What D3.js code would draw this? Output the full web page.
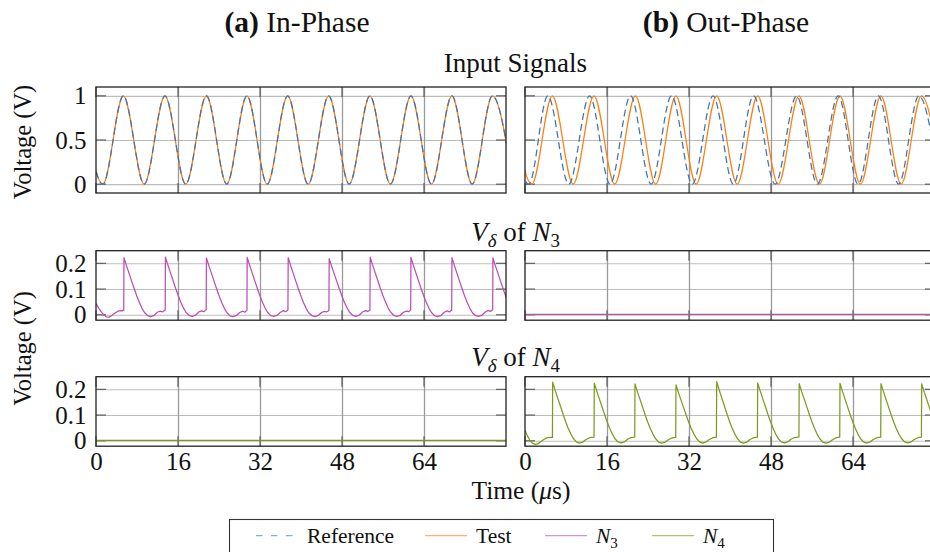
<!DOCTYPE html>
<html>
<head>
<meta charset="utf-8">
<script src="https://cdn.jsdelivr.net/npm/d3@7"></script>
<style>
  html, body { margin: 0; padding: 0; background: #fff; }
  svg { display: block; }
  svg text { font-family: "Liberation Serif", "Times New Roman", serif !important; }
</style>
</head>
<body>
<svg id="chart" width="930" height="552"></svg>
<script>
// ---------------- data ----------------
const xTicks = [0, 16, 32, 48, 64];
const yTicksInput = [0, 0.5, 1];
const yTicksDelta = [0, 0.1, 0.2];
const columnTitles = ["In-Phase", "Out-Phase"];
const columnTags = ["(a)", "(b)"];
const seriesNames = ["Reference", "Test", "N3", "N4"];

// Input signals: extrema [time (µs), volts]; drawn with a monotone curve
const testSignal = [[-2.67,1],[1.33,0],[5.33,1],[9.4,0],[13.45,1],[17.5,0],[21.55,1],[25.5,0],[29.45,1],[33.4,0],
  [37.4,1],[41.4,0],[45.4,1],[49.4,0],[53.45,1],[57.45,0],[61.45,1],[65.45,0],[69.45,1],[73.4,0],[77.35,1],[81.35,0]];
const referenceInPhase = testSignal;
const referenceOutPhase = [[-3.3,1],[0.75,0],[4.45,1],[8.55,0],[12.6,1],[16.6,0],[20.6,1],[24.6,0],[28.6,1],[32.65,0],
  [36.7,1],[40.65,0],[44.6,1],[48.8,0],[53.0,1],[57.05,0],[61.1,1],[65.0,0],[68.95,1],[72.9,0],[76.85,1],[80.85,0]];

// V_delta of N3, in-phase case
const n3InPhase = [
  [0,0.044],[0.5,0.027],[1.0,0.012],[1.5,0.0],[2.0,-0.008],[2.5,-0.009],[3.0,-0.004],[3.6,0.005],[4.2,0.013],[4.7,0.016],[5.1,0.015],[5.41,0.018],
  [5.46,0.222],[5.96,0.19],[6.46,0.161],[6.96,0.131],[7.46,0.101],[7.96,0.073],[8.46,0.048],[8.96,0.026],[9.46,0.009],[10.06,-0.003],[10.66,-0.007],[11.36,-0.002],[11.96,0.01],[12.56,0.014],[12.96,0.011],[13.5,0.019],
  [13.55,0.224],[14.05,0.192],[14.55,0.162],[15.05,0.132],[15.55,0.102],[16.05,0.074],[16.55,0.049],[17.05,0.027],[17.55,0.01],[18.15,-0.002],[18.75,-0.006],[19.45,-0.001],[20.05,0.011],[20.65,0.015],[21.05,0.012],[21.5,0.02],
  [21.55,0.221],[22.05,0.189],[22.55,0.16],[23.05,0.13],[23.55,0.1],[24.05,0.072],[24.55,0.047],[25.05,0.025],[25.55,0.008],[26.15,-0.004],[26.75,-0.007],[27.45,-0.002],[28.05,0.009],[28.65,0.014],[29.05,0.01],[29.45,0.018],
  [29.5,0.223],[30.0,0.191],[30.5,0.161],[31.0,0.131],[31.5,0.101],[32.0,0.073],[32.5,0.048],[33.0,0.026],[33.5,0.009],[34.1,-0.003],[34.7,-0.006],[35.4,-0.001],[36.0,0.01],[36.6,0.016],[37.0,0.012],[37.45,0.019],
  [37.5,0.222],[38.0,0.19],[38.5,0.16],[39.0,0.13],[39.5,0.1],[40.0,0.072],[40.5,0.047],[41.0,0.025],[41.5,0.008],[42.1,-0.003],[42.7,-0.007],[43.4,-0.002],[44.0,0.009],[44.6,0.013],[45.0,0.011],[45.45,0.017],
  [45.5,0.218],[46.0,0.187],[46.5,0.158],[47.0,0.129],[47.5,0.1],[48.0,0.072],[48.5,0.047],[49.0,0.026],[49.5,0.009],[50.1,-0.002],[50.7,-0.006],[51.4,-0.001],[52.0,0.011],[52.6,0.016],[53.0,0.013],[53.45,0.018],
  [53.5,0.224],[54.0,0.192],[54.5,0.162],[55.0,0.132],[55.5,0.102],[56.0,0.074],[56.5,0.049],[57.0,0.027],[57.5,0.01],[58.1,-0.002],[58.7,-0.006],[59.4,-0.002],[60.0,0.01],[60.6,0.014],[61.0,0.012],[61.4,0.019],
  [61.45,0.223],[61.95,0.191],[62.45,0.161],[62.95,0.131],[63.45,0.101],[63.95,0.073],[64.45,0.048],[64.95,0.026],[65.45,0.009],[66.05,-0.003],[66.65,-0.007],[67.35,-0.002],[67.95,0.01],[68.55,0.015],[68.95,0.011],[69.4,0.018],
  [69.45,0.222],[69.95,0.19],[70.45,0.16],[70.95,0.13],[71.45,0.1],[71.95,0.072],[72.45,0.047],[72.95,0.025],[73.45,0.008],[74.05,-0.003],[74.65,-0.006],[75.35,-0.001],[75.95,0.011],[76.55,0.017],[76.95,0.013],[77.4,0.02],
  [77.45,0.221],[77.95,0.189],[78.45,0.16],[78.95,0.13],[79.45,0.1],[79.95,0.072],[80.45,0.047]
];
// V_delta of N3, out-phase case (stays near zero)
const n3OutPhase = [[0,0.002],[20,0.002],[40,0.002],[60,0.002],[80,0.002]];

// V_delta of N4, in-phase case (stays near zero)
const n4InPhase = [[0,0.002],[20,0.002],[40,0.002],[60,0.002],[80,0.002]];
// V_delta of N4, out-phase case
const n4OutPhase = [
  [0,0.041],[0.5,0.018],[1.0,0.0],[1.5,-0.01],[2.0,-0.014],[2.5,-0.012],[3.0,-0.005],[3.6,0.004],[4.2,0.011],[4.8,0.013],[5.35,0.013],
  [5.4,0.228],[5.9,0.195],[6.4,0.165],[6.9,0.135],[7.4,0.105],[7.9,0.076],[8.4,0.05],[8.9,0.028],[9.4,0.01],[10.0,-0.004],[10.6,-0.009],[11.3,-0.005],[11.9,0.005],[12.5,0.011],[12.9,0.013],[13.47,0.014],
  [13.52,0.224],[14.02,0.192],[14.52,0.162],[15.02,0.132],[15.52,0.102],[16.02,0.074],[16.52,0.049],[17.02,0.027],[17.52,0.009],[18.12,-0.004],[18.72,-0.008],[19.42,-0.004],[20.02,0.006],[20.62,0.012],[21.02,0.013],[21.41,0.015],
  [21.46,0.221],[21.96,0.189],[22.46,0.16],[22.96,0.13],[23.46,0.1],[23.96,0.072],[24.46,0.047],[24.96,0.026],[25.46,0.009],[26.06,-0.005],[26.66,-0.009],[27.36,-0.005],[27.96,0.004],[28.56,0.01],[28.96,0.012],[29.41,0.013],
  [29.46,0.217],[29.96,0.186],[30.46,0.157],[30.96,0.128],[31.46,0.099],[31.96,0.071],[32.46,0.047],[32.96,0.026],[33.46,0.009],[34.06,-0.004],[34.66,-0.009],[35.36,-0.004],[35.96,0.005],[36.56,0.011],[36.96,0.013],[37.35,0.014],
  [37.4,0.23],[37.9,0.197],[38.4,0.166],[38.9,0.135],[39.4,0.105],[39.9,0.076],[40.4,0.05],[40.9,0.028],[41.4,0.01],[42.0,-0.004],[42.6,-0.009],[43.3,-0.005],[43.9,0.005],[44.5,0.011],[44.9,0.013],[45.35,0.014],
  [45.4,0.225],[45.9,0.193],[46.4,0.163],[46.9,0.133],[47.4,0.103],[47.9,0.074],[48.4,0.049],[48.9,0.027],[49.4,0.009],[50.0,-0.004],[50.6,-0.008],[51.3,-0.004],[51.9,0.006],[52.5,0.012],[52.9,0.013],[53.45,0.015],
  [53.5,0.222],[54.0,0.19],[54.5,0.161],[55.0,0.131],[55.5,0.101],[56.0,0.073],[56.5,0.048],[57.0,0.026],[57.5,0.009],[58.1,-0.005],[58.7,-0.009],[59.4,-0.005],[60.0,0.004],[60.6,0.011],[61.0,0.013],[61.41,0.014],
  [61.46,0.223],[61.96,0.191],[62.46,0.161],[62.96,0.131],[63.46,0.101],[63.96,0.073],[64.46,0.048],[64.96,0.026],[65.46,0.009],[66.06,-0.004],[66.66,-0.009],[67.36,-0.004],[67.96,0.005],[68.56,0.011],[68.96,0.013],[69.41,0.014],
  [69.46,0.222],[69.96,0.19],[70.46,0.16],[70.96,0.13],[71.46,0.1],[71.96,0.072],[72.46,0.047],[72.96,0.026],[73.46,0.009],[74.06,-0.004],[74.66,-0.008],[75.36,-0.004],[75.96,0.005],[76.56,0.011],[76.96,0.013],[77.35,0.014],
  [77.4,0.221],[77.9,0.189],[78.4,0.16],[78.9,0.13],[79.4,0.1],[79.9,0.072],[80.4,0.047]
];

// ---------------- layout & style ----------------
const COLORS = { reference: "#3a74b6", test: "#ff7f0e", n3: "#be4cb3", n4: "#7d9a1c" };
const TEXT = "#111";
const SERIF = '"Liberation Serif", "Times New Roman", serif';
const columns = [{ x0: 96, x1: 506 }, { x0: 525, x1: 935 }];
const rows = [
  { y0: 87,    y1: 193,   domain: [-0.1, 1.1],     ticks: yTicksInput },
  { y0: 250.7, y1: 320.2, domain: [-0.021, 0.249], ticks: yTicksDelta },
  { y0: 376.7, y1: 446.2, domain: [-0.021, 0.249], ticks: yTicksDelta }
];
const DASH = "7,4";

const panels = [
  { row: 0, col: 0, series: [
      { data: testSignal, color: COLORS.test, curve: d3.curveMonotoneX },
      { data: referenceInPhase, color: COLORS.reference, dash: DASH, curve: d3.curveMonotoneX } ] },
  { row: 0, col: 1, series: [
      { data: testSignal, color: COLORS.test, curve: d3.curveMonotoneX },
      { data: referenceOutPhase, color: COLORS.reference, dash: DASH, curve: d3.curveMonotoneX } ] },
  { row: 1, col: 0, series: [{ data: n3InPhase, color: COLORS.n3, curve: d3.curveLinear }] },
  { row: 1, col: 1, series: [{ data: n3OutPhase, color: COLORS.n3, curve: d3.curveLinear }] },
  { row: 2, col: 0, series: [{ data: n4InPhase, color: COLORS.n4, curve: d3.curveLinear }] },
  { row: 2, col: 1, series: [{ data: n4OutPhase, color: COLORS.n4, curve: d3.curveLinear }] }
];

const svg = d3.select("#chart");
const defs = svg.append("defs");

// Text with italic / bold / subscript runs
function richText(parent, parts, size) {
  const t = parent.append("text").attr("font-size", size).attr("fill", TEXT)
    .style("font-family", SERIF);
  let shifted = 0;
  parts.forEach(p => {
    const s = t.append("tspan").text(p.t);
    if (p.i) s.attr("font-style", "italic");
    if (p.b) s.attr("font-weight", "bold");
    if (p.sub) {
      const d = size * 0.24;
      s.attr("font-size", size * 0.7).attr("dy", d - shifted);
      shifted = d;
    } else if (shifted) {
      s.attr("dy", -shifted);
      shifted = 0;
    }
  });
  return t;
}

panels.forEach((p, idx) => {
  const c = columns[p.col], r = rows[p.row];
  const x = d3.scaleLinear().domain([0, 80]).range([c.x0, c.x1]);
  const y = d3.scaleLinear().domain(r.domain).range([r.y1, r.y0]);
  const w = c.x1 - c.x0, h = r.y1 - r.y0;
  const g = svg.append("g");

  const clipId = "clip" + idx;
  defs.append("clipPath").attr("id", clipId)
    .append("rect").attr("x", c.x0).attr("y", r.y0).attr("width", w).attr("height", h);

  // horizontal grid
  g.append("g").attr("transform", `translate(${c.x0},0)`)
    .call(d3.axisLeft(y).tickValues(r.ticks).tickSize(-w).tickFormat(""))
    .call(a => a.select(".domain").remove())
    .call(a => a.selectAll("line").attr("stroke", "#bcbcbc").attr("stroke-width", 1.1));
  // vertical grid
  g.append("g").attr("transform", `translate(0,${r.y1})`)
    .call(d3.axisBottom(x).tickValues(xTicks.filter(v => v > 0)).tickSize(-h).tickFormat(""))
    .call(a => a.select(".domain").remove())
    .call(a => a.selectAll("line").attr("stroke", "#9a9a9a").attr("stroke-width", 1.3));

  // inner tick marks on all four sides
  const tl = 10;
  const tk = g.append("g").attr("stroke", "#555").attr("stroke-width", 1.1);
  r.ticks.forEach(v => {
    tk.append("line").attr("x1", c.x0).attr("x2", c.x0 + tl).attr("y1", y(v)).attr("y2", y(v));
    tk.append("line").attr("x1", c.x1).attr("x2", c.x1 - tl).attr("y1", y(v)).attr("y2", y(v));
  });
  xTicks.forEach(v => {
    tk.append("line").attr("x1", x(v)).attr("x2", x(v)).attr("y1", r.y1).attr("y2", r.y1 - tl);
    tk.append("line").attr("x1", x(v)).attr("x2", x(v)).attr("y1", r.y0).attr("y2", r.y0 + tl);
  });

  // series
  const plot = g.append("g").attr("clip-path", `url(#${clipId})`);
  p.series.forEach(s => {
    const line = d3.line().x(d => x(d[0])).y(d => y(d[1])).curve(s.curve);
    plot.append("path").datum(s.data)
      .attr("d", line).attr("fill", "none")
      .attr("stroke", s.color).attr("stroke-width", 1.25)
      .attr("stroke-dasharray", s.dash || null)
      .attr("stroke-linejoin", "round");
  });

  // frame
  g.append("rect").attr("x", c.x0).attr("y", r.y0).attr("width", w).attr("height", h)
    .attr("fill", "none").attr("stroke", "#222").attr("stroke-width", 1.3);

  // y tick labels on the left column
  if (p.col === 0) {
    g.append("g").attr("transform", `translate(${c.x0},0)`)
      .call(d3.axisLeft(y).tickValues(r.ticks).tickSize(0).tickPadding(9.5).tickFormat(d3.format("")))
      .attr("font-family", null).attr("font-size", null)
      .call(a => a.select(".domain").remove())
      .call(a => a.selectAll("text").attr("font-size", 25).attr("fill", TEXT)
        .style("font-family", SERIF));
  }
  // x tick labels on the bottom row
  if (p.row === 2) {
    g.append("g").attr("transform", `translate(0,${r.y1})`)
      .call(d3.axisBottom(x).tickValues(xTicks).tickSize(0).tickPadding(6))
      .attr("font-family", null).attr("font-size", null)
      .call(a => a.select(".domain").remove())
      .call(a => a.selectAll("text").attr("font-size", 25).attr("fill", TEXT)
        .style("font-family", SERIF));
  }
});

// column titles
columns.forEach((c, i) => {
  richText(svg, [{ t: columnTags[i], b: true }, { t: " " + columnTitles[i] }], 29.5)
    .attr("x", (c.x0 + c.x1) / 2 - 4).attr("y", 32).attr("text-anchor", "middle");
});

// row titles
const midX = (columns[0].x1 + columns[1].x0) / 2;
richText(svg, [{ t: "Input Signals" }], 27).attr("x", midX).attr("y", 72).attr("text-anchor", "middle");
richText(svg, [{ t: "V", i: true }, { t: "δ", i: true, sub: true }, { t: " of " }, { t: "N", i: true }, { t: "3", sub: true }], 27)
  .attr("x", midX).attr("y", 241).attr("text-anchor", "middle");
richText(svg, [{ t: "V", i: true }, { t: "δ", i: true, sub: true }, { t: " of " }, { t: "N", i: true }, { t: "4", sub: true }], 27)
  .attr("x", midX).attr("y", 366).attr("text-anchor", "middle");

// axis titles
richText(svg, [{ t: "Voltage (V)" }], 24.5)
  .attr("text-anchor", "middle").attr("transform", `translate(31,${(rows[0].y0 + rows[0].y1) / 2 + 2}) rotate(-90)`);
richText(svg, [{ t: "Voltage (V)" }], 24.5)
  .attr("text-anchor", "middle").attr("transform", `translate(31,${(rows[1].y0 + rows[2].y1) / 2}) rotate(-90)`);
richText(svg, [{ t: "Time (" }, { t: "μ", i: true }, { t: "s)" }], 25.5)
  .attr("x", 521).attr("y", 499).attr("text-anchor", "middle");

// legend
const legend = svg.append("g");
legend.append("rect").attr("x", 229.5).attr("y", 519.5).attr("width", 544).attr("height", 50)
  .attr("fill", "#fff").attr("stroke", "#333").attr("stroke-width", 1.1);
const legendItems = [
  { x: 256, color: COLORS.reference, dash: "6.5,8.5", label: [{ t: seriesNames[0] }] },
  { x: 425, color: COLORS.test, label: [{ t: seriesNames[1] }] },
  { x: 545, color: COLORS.n3, label: [{ t: "N", i: true }, { t: "3", sub: true }] },
  { x: 652, color: COLORS.n4, label: [{ t: "N", i: true }, { t: "4", sub: true }] }
];
legendItems.forEach(it => {
  legend.append("line").attr("x1", it.x).attr("x2", it.x + 42).attr("y1", 535.7).attr("y2", 535.7)
    .attr("stroke", it.color).attr("stroke-width", 1.3).attr("stroke-opacity", 0.6)
    .attr("stroke-dasharray", it.dash || null);
  richText(legend, it.label, 21.5).attr("x", it.x + 51).attr("y", 543);
});
</script>
</body>
</html>
